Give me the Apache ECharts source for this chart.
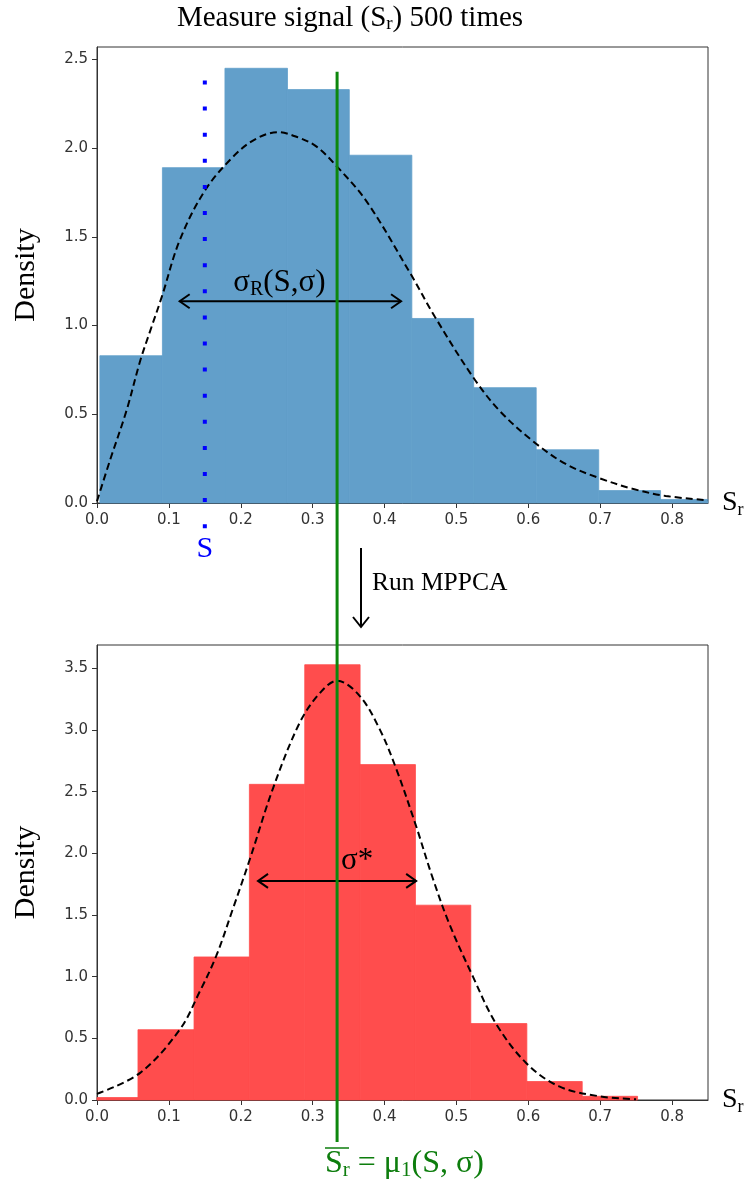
<!DOCTYPE html>
<html>
<head>
<meta charset="utf-8">
<script src="https://cdn.jsdelivr.net/npm/echarts@6/dist/echarts.min.js"></script>
<style>
  html, body { margin: 0; padding: 0; background: #fff; }
  #chart { width: 746px; height: 1185px; }
</style>
</head>
<body>
<div id="chart"></div>
<script>
// histogram before MPPCA (bin edges + density)
const topEdges = [0.004, 0.091, 0.178, 0.265, 0.351, 0.438, 0.524, 0.611, 0.698, 0.784, 0.871];
const topDensity = [0.83, 1.89, 2.45, 2.33, 1.96, 1.04, 0.65, 0.30, 0.07, 0.02];
// fitted curve
const topCurveX = [0.000, 0.018, 0.041, 0.060, 0.074, 0.090, 0.115, 0.150, 0.189, 0.220, 0.252, 0.280, 0.305, 0.333, 0.375, 0.435, 0.470, 0.523, 0.560, 0.606, 0.652, 0.699, 0.745, 0.791, 0.850];
const topCurveY = [0.01, 0.24, 0.52, 0.80, 0.97, 1.16, 1.48, 1.76, 1.95, 2.05, 2.09, 2.06, 2.01, 1.90, 1.70, 1.30, 1.05, 0.71, 0.52, 0.35, 0.22, 0.14, 0.08, 0.04, 0.015];

// histogram after MPPCA
const bottomEdges = [-0.020, 0.057, 0.135, 0.212, 0.289, 0.366, 0.443, 0.520, 0.598, 0.675, 0.752];
const bottomDensity = [0.02, 0.57, 1.16, 2.56, 3.53, 2.72, 1.58, 0.62, 0.15, 0.03];
const bottomCurveX = [0.000, 0.060, 0.115, 0.143, 0.166, 0.189, 0.2125, 0.245, 0.282, 0.310, 0.334, 0.365, 0.393, 0.416, 0.444, 0.467, 0.490, 0.523, 0.555, 0.597, 0.643, 0.699, 0.750];
const bottomCurveY = [0.05, 0.22, 0.57, 0.88, 1.17, 1.55, 1.95, 2.53, 3.06, 3.30, 3.40, 3.28, 3.01, 2.69, 2.22, 1.80, 1.43, 1.00, 0.62, 0.30, 0.11, 0.03, 0.006];

// tick labels
const xTicks = [0, 0.1, 0.2, 0.3, 0.4, 0.5, 0.6, 0.7, 0.8];
const topYTicks = [0, 0.5, 1.0, 1.5, 2.0, 2.5];
const bottomYTicks = [0, 0.5, 1.0, 1.5, 2.0, 2.5, 3.0, 3.5];

// annotations (data units)
const trueS = 0.150, trueSTop = 2.37;
const meanSr = 0.334, meanTop = 2.43;
const sigmaR = { y: 1.137, from: 0.115, to: 0.423 };
const sigmaStar = { y: 1.777, from: 0.224, to: 0.444 };

const serif = '"Liberation Serif", "DejaVu Serif", serif';
const sans = '"DejaVu Sans", sans-serif';
const axisColor = '#333';

function histSeries(edges, dens, color, idx) {
    return {
        type: 'custom',
        xAxisIndex: idx, yAxisIndex: idx,
        data: dens.map((d, i) => [edges[i], edges[i + 1], d]),
        encode: { x: [0, 1], y: 2 },
        renderItem: function (params, api) {
            const p0 = api.coord([api.value(0), api.value(2)]);
            const p1 = api.coord([api.value(1), 0]);
            const rect = echarts.graphic.clipRectByRect(
                { x: p0[0], y: p0[1], width: p1[0] - p0[0], height: p1[1] - p0[1] },
                { x: params.coordSys.x, y: params.coordSys.y, width: params.coordSys.width, height: params.coordSys.height }
            );
            return rect && { type: 'rect', shape: rect, style: { fill: color, stroke: color, lineWidth: 0.8 } };
        },
        z: 2
    };
}

function curveSeries(xs, ys, idx) {
    return {
        type: 'line',
        xAxisIndex: idx, yAxisIndex: idx,
        data: xs.map((x, i) => [x, ys[i]]),
        showSymbol: false,
        smooth: 0.35,
        lineStyle: { color: '#000', width: 2, type: [7, 4] },
        z: 3
    };
}

function xAxisOpt(idx) {
    return {
        type: 'value', gridIndex: idx, min: 0, max: 0.85,
        name: '{a|S}{b|r}',
        nameLocation: 'end', nameGap: 14,
        nameTextStyle: {
            rich: {
                a: { fontFamily: serif, fontSize: 28, color: '#000' },
                b: { fontFamily: serif, fontSize: 18, color: '#000', padding: [14, 0, 0, 0] }
            }
        },
        axisLine: { show: true, lineStyle: { color: axisColor, width: 1 } },
        axisTick: { show: true, length: 5, lineStyle: { color: axisColor }, customValues: xTicks },
        axisLabel: { customValues: xTicks, formatter: v => v.toFixed(1), fontFamily: sans, fontSize: 15, color: axisColor, margin: 10 },
        splitLine: { show: false }
    };
}

function yAxisOpt(idx, max, ticks) {
    return {
        type: 'value', gridIndex: idx, min: 0, max: max,
        name: 'Density',
        nameLocation: 'middle', nameGap: 56, nameRotate: 90,
        nameTextStyle: { fontFamily: serif, fontSize: 30, color: '#000' },
        axisLine: { show: true, lineStyle: { color: axisColor, width: 1 } },
        axisTick: { show: true, length: 5, lineStyle: { color: axisColor }, customValues: ticks },
        axisLabel: { customValues: ticks, formatter: v => v.toFixed(1), fontFamily: sans, fontSize: 15, color: axisColor, margin: 9 },
        splitLine: { show: false }
    };
}

const chart = echarts.init(document.getElementById('chart'));
chart.setOption({
    animation: false,
    backgroundColor: '#fff',
    grid: [
        { left: 97, top: 47, width: 611, height: 456, show: true, borderColor: axisColor, borderWidth: 1 },
        { left: 97, top: 645, width: 611, height: 455, show: true, borderColor: axisColor, borderWidth: 1 }
    ],
    xAxis: [xAxisOpt(0), xAxisOpt(1)],
    yAxis: [yAxisOpt(0, 2.57, topYTicks), yAxisOpt(1, 3.69, bottomYTicks)],
    series: [
        histSeries(topEdges, topDensity, '#629fca', 0),
        curveSeries(topCurveX, topCurveY, 0),
        histSeries(bottomEdges, bottomDensity, '#ff4d4d', 1),
        curveSeries(bottomCurveX, bottomCurveY, 1)
    ]
});

// overlay annotations, placed through the axes
const px = (g, pt) => chart.convertToPixel({ gridIndex: g }, pt);

function hArrow(g, a) {
    const p1 = px(g, [a.from, a.y]), p2 = px(g, [a.to, a.y]);
    const head = 10, half = 7;
    const st = { stroke: '#000', lineWidth: 2, fill: null };
    return [
        { type: 'line', z: 50, shape: { x1: p1[0], y1: p1[1], x2: p2[0], y2: p2[1] }, style: st },
        { type: 'polyline', z: 50, shape: { points: [[p1[0] + head, p1[1] - half], [p1[0], p1[1]], [p1[0] + head, p1[1] + half]] }, style: st },
        { type: 'polyline', z: 50, shape: { points: [[p2[0] - head, p2[1] - half], [p2[0], p2[1]], [p2[0] - head, p2[1] + half]] }, style: st }
    ];
}

const sTop = px(0, [trueS, trueSTop]);
const sBase = px(0, [trueS, 0]);
const mTop = px(0, [meanSr, meanTop]);
const mBase = px(1, [meanSr, 0]);
const sigR = px(0, [(sigmaR.from + sigmaR.to) / 2, sigmaR.y]);
const sigS = px(1, [sigmaStar.from, sigmaStar.y]);

const graphics = [
    // title
    { type: 'text', x: 350, y: 18, z: 60,
      style: { text: '{t|Measure signal (S}{s|r}{t|) 500 times}', align: 'center', verticalAlign: 'middle',
               rich: { t: { fontFamily: serif, fontSize: 29, fill: '#000' },
                       s: { fontFamily: serif, fontSize: 19, fill: '#000', padding: [12, 0, 0, 0] } } } },
    // true signal S (dotted)
    { type: 'line', z: 40, shape: { x1: sTop[0], y1: sTop[1] - 2, x2: sBase[0], y2: sBase[1] + 26 },
      style: { stroke: '#0000ff', lineWidth: 4, lineDash: [4, 22.1], lineCap: 'butt' } },
    { type: 'text', x: sBase[0], y: sBase[1] + 46, z: 60,
      style: { text: 'S', align: 'center', verticalAlign: 'middle', fontFamily: serif, fontSize: 30, fill: '#0000ff' } },
    // sigma_R
    ...hArrow(0, sigmaR),
    { type: 'text', x: sigR[0] - 11, y: sigR[1] - 18, z: 60,
      style: { text: '{t|σ}{s|R}{t|(S,σ)}', align: 'center', verticalAlign: 'middle',
               rich: { t: { fontFamily: serif, fontSize: 31, fill: '#000' },
                       s: { fontFamily: serif, fontSize: 20, fill: '#000', padding: [12, 0, 0, 0] } } } },
    // Run MPPCA
    { type: 'line', z: 50, shape: { x1: 361, y1: 548, x2: 361, y2: 627 }, style: { stroke: '#000', lineWidth: 2 } },
    { type: 'polyline', z: 50, shape: { points: [[353, 617], [361, 627], [369, 617]] }, style: { stroke: '#000', lineWidth: 2, fill: null } },
    { type: 'text', x: 372, y: 583, z: 60,
      style: { text: 'Run MPPCA', align: 'left', verticalAlign: 'middle', fontFamily: serif, fontSize: 25.5, fill: '#000' } },
    // sigma*
    ...hArrow(1, sigmaStar),
    { type: 'text', x: 341, y: sigS[1] - 20, z: 60,
      style: { text: 'σ*', align: 'left', verticalAlign: 'middle', fontFamily: serif, fontSize: 31, fill: '#000' } },
    // mean line through both panels
    { type: 'line', z: 70, shape: { x1: mTop[0], y1: mTop[1], x2: mBase[0], y2: mBase[1] + 42 },
      style: { stroke: '#0d870d', lineWidth: 3 } },
    // mean label
    { type: 'text', x: 325, y: 1164, z: 60,
      style: { text: '{t|S}{s|r}{t| = μ}{s|1}{t|(S, σ)}', align: 'left', verticalAlign: 'middle',
               rich: { t: { fontFamily: serif, fontSize: 32, fill: '#0d7d0d' },
                       s: { fontFamily: serif, fontSize: 21, fill: '#0d7d0d', padding: [12, 0, 0, 0] } } } },
    { type: 'line', z: 60, shape: { x1: 325, y1: 1148, x2: 349, y2: 1148 }, style: { stroke: '#0d7d0d', lineWidth: 1.5 } }
];

chart.setOption({ graphic: graphics });
</script>
</body>
</html>
